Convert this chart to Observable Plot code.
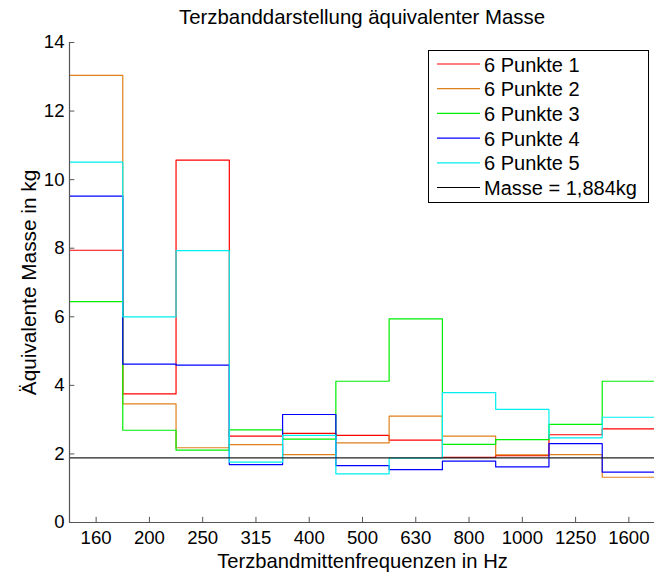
<!DOCTYPE html>
<html>
<head>
<meta charset="utf-8">
<script src="https://cdn.jsdelivr.net/npm/d3@7"></script>
<script src="https://cdn.jsdelivr.net/npm/@observablehq/plot@0.6"></script>
<style>
  body { margin: 0; background: #fff; }
  #wrap { position: relative; width: 654px; height: 572px; overflow: hidden;
          font-family: "Liberation Sans", Arial, Helvetica, sans-serif; color: #000; }
  #title { position: absolute; left: 69px; width: 586px; top: 7px; text-align: center;
           font-size: 20.4px; line-height: 1; white-space: nowrap; }
  #chart { position: absolute; left: 0; top: 0; }
  #legend { position: absolute; left: 428px; top: 50px; width: 219px; height: 151px;
            border: 1.5px solid #000; background: #fff; }
</style>
</head>
<body>
<div id="wrap">
  <div id="chart"></div>
  <div id="title">Terzbanddarstellung äquivalenter Masse</div>
  <svg id="legend" width="220" height="152"></svg>
</div>
<script>
// Terzband centre frequencies (tick labels)
const bands = ["160", "200", "250", "315", "400", "500", "630", "800", "1000", "1250", "1600"];
// Series names
const names = ["6 Punkte 1", "6 Punkte 2", "6 Punkte 3", "6 Punkte 4", "6 Punkte 5"];
// Equivalent mass per band (kg)
const s1 = [7.94, 3.75, 10.57, 2.52, 2.60, 2.54, 2.40, 1.90, 1.95, 2.56, 2.73];
const s2 = [13.04, 3.46, 2.18, 2.27, 1.98, 2.32, 3.10, 2.52, 1.97, 1.98, 1.32];
const s3 = [6.44, 2.69, 2.11, 2.70, 2.43, 4.12, 5.94, 2.28, 2.42, 2.86, 4.12];
const s4 = [9.52, 4.62, 4.59, 1.69, 3.15, 1.66, 1.54, 1.79, 1.62, 2.30, 1.47];
const s5 = [10.51, 6.00, 7.93, 1.76, 2.54, 1.42, 1.88, 3.79, 3.30, 2.47, 3.07];
const masse = 1.884;
const masseLabel = "Masse = 1,884kg";
const yTicks = [0, 2, 4, 6, 8, 10, 12, 14];
const colors = ["#ff0000", "#e0801a", "#00ee00", "#0000ff", "#00eeee"];

const seriesVals = [s1, s2, s3, s4, s5];
const rows = [];
names.forEach((name, k) => {
  const vals = seriesVals[k];
  vals.forEach((v, i) => rows.push({name, x: i + 0.5, y: v}));
  rows.push({name, x: vals.length + 0.5, y: vals[vals.length - 1]});
});
const xTicks = bands.map((b, i) => i + 1);

const chart = Plot.plot({
  width: 654,
  height: 572,
  marginLeft: 69,
  marginRight: -1,
  marginTop: 42,
  marginBottom: 50,
  style: {fontFamily: "'Liberation Sans', Arial, Helvetica, sans-serif", fontSize: "18.6px", background: "transparent", color: "#000"},
  x: {domain: [0.5, bands.length + 0.5], axis: null},
  y: {domain: [0, 14], axis: null},
  color: {domain: names, range: colors},
  marks: [
    Plot.line(rows, {x: "x", y: "y", z: "name", stroke: "name", curve: "step-after", strokeWidth: 1.2}),
    Plot.ruleY([masse], {stroke: "#222", strokeWidth: 1.1}),
    // axis lines
    Plot.ruleY([0], {stroke: "#555", strokeWidth: 1.2}),
    Plot.ruleX([0.5], {y1: 0, y2: 14, stroke: "#555", strokeWidth: 1.2}),
    // inward ticks
    Plot.ruleX(xTicks, {x: d => d, y1: 0, y2: 0.15, stroke: "#555", strokeWidth: 1}),
    Plot.ruleY(yTicks, {y: d => d, x1: 0.5, x2: 0.6, stroke: "#555", strokeWidth: 1}),
    // tick labels
    Plot.axisX(xTicks, {tickSize: 0, tickPadding: 8, tickFormat: i => bands[i - 1], label: null}),
    Plot.axisY(yTicks, {tickSize: 0, tickPadding: 5, label: null}),
    // axis titles
    Plot.text(["Terzbandmittenfrequenzen in Hz"], {frameAnchor: "bottom", textAnchor: "middle", dy: 45, lineAnchor: "bottom", fontSize: 20.2}),
    Plot.text(["Äquivalente Masse in kg"], {frameAnchor: "left", textAnchor: "middle", dx: -48, rotate: -90, lineAnchor: "top", fontSize: 20.8})
  ]
});
document.getElementById("chart").appendChild(chart);

// Legend
const leg = d3.select("#legend");
const legItems = names.map((n, i) => ({label: n, color: colors[i]})).concat([{label: masseLabel, color: "#000"}]);
legItems.forEach((it, i) => {
  const cy = 13 + i * 24.7;
  leg.append("line").attr("x1", 8).attr("x2", 51).attr("y1", cy).attr("y2", cy)
    .attr("stroke", it.color).attr("stroke-width", 1.2);
  leg.append("text").attr("x", 55).attr("y", cy + 7.5)
    .attr("font-family", "'Liberation Sans', Arial, Helvetica, sans-serif")
    .attr("font-size", "20px").attr("fill", "#000").text(it.label);
});
</script>
</body>
</html>
